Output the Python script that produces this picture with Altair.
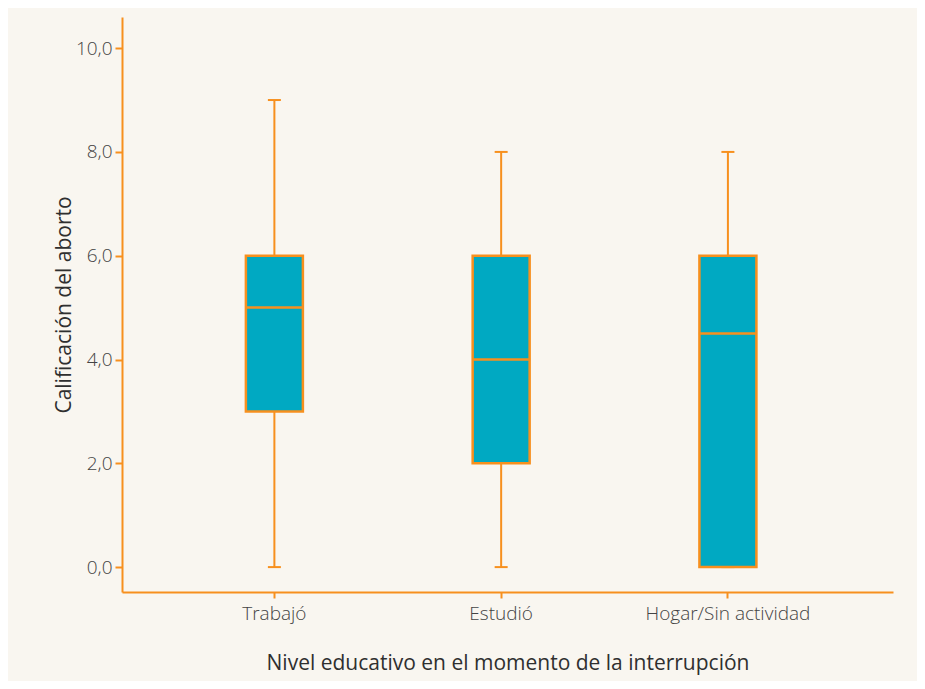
import altair as alt
import pandas as pd

categories = ["Trabajó", "Estudió", "Hogar/Sin actividad"]
mins = [0, 0, 0]
q1s = [3, 2, 0]
medians = [5, 4, 4.5]
q3s = [6, 6, 6]
maxs = [9, 8, 8]

y_ticks = [0, 2, 4, 6, 8, 10]

ORANGE = "#f7901e"
TEAL = "#00a9c2"
TEXT = "#444444"
BG = "#f9f6f0"
FONT = "Open Sans"

df = pd.DataFrame({"cat": categories, "min": mins, "q1": q1s, "med": medians,
                   "q3": q3s, "max": maxs})

x = alt.X("cat:N", sort=categories,
          scale=alt.Scale(paddingInner=0, paddingOuter=0.2, align=0.43),
          axis=alt.Axis(title="Nivel educativo en el momento de la interrupción",
                        labelAngle=0, labelPadding=6, tickSize=6, titlePadding=29))
yscale = alt.Scale(domain=[-0.48, 10.6], nice=False, zero=False)
y_axis = alt.Axis(title="Calificación del aborto", values=y_ticks, tickSize=7,
                  labelPadding=3, titlePadding=1,
                  labelExpr="replace(format(datum.value, '.1f'), '.', ',')")

base = alt.Chart(df).encode(x=x)

whisker = base.mark_rule(color=ORANGE, strokeWidth=2).encode(
    y=alt.Y("min:Q", scale=yscale, axis=y_axis), y2="max:Q")
cap_lo = base.mark_tick(color=ORANGE, size=13, thickness=2, opacity=1).encode(
    y=alt.Y("min:Q", scale=yscale))
cap_hi = base.mark_tick(color=ORANGE, size=13, thickness=2, opacity=1).encode(
    y=alt.Y("max:Q", scale=yscale))
box = base.mark_bar(size=57, fill=TEAL, stroke=ORANGE, strokeWidth=2.5, opacity=1).encode(
    y=alt.Y("q1:Q", scale=yscale), y2="q3:Q")
median = base.mark_tick(color=ORANGE, size=58, thickness=2.5, opacity=1).encode(
    y=alt.Y("med:Q", scale=yscale))

chart = alt.layer(whisker, cap_lo, cap_hi, box, median).properties(
    width=771, height=575,
    autosize=alt.AutoSizeParams(type="none"),
    padding={"left": 114, "top": 9, "right": 24, "bottom": 89},
    background=BG,
).configure_view(stroke=None).configure_axis(
    grid=False, domainColor=ORANGE, domainWidth=2, tickColor=ORANGE, tickWidth=2,
    labelFont=FONT, labelFontSize=19, labelColor=TEXT, labelFontWeight=300,
    titleFont=FONT, titleFontSize=21, titleColor="#2f2f2f", titleFontWeight=400,
)

chart.save("out.html", embed_options={"renderer": "svg", "actions": False})
